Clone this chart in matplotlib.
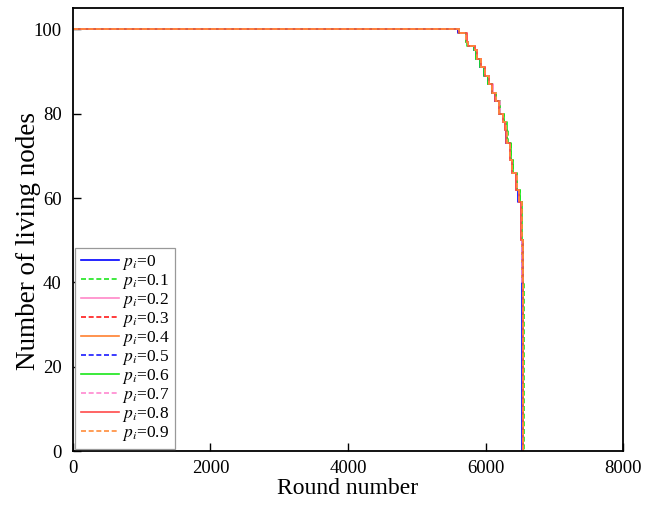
import matplotlib
matplotlib.use("Agg")
import matplotlib.pyplot as plt

plt.rcParams["font.family"] = ["Liberation Serif", "DejaVu Serif"]
plt.rcParams["mathtext.fontset"] = "stix"

# Number of living nodes after each death event (shared step levels)
alive = [100, 99, 97, 96, 95, 93, 91, 89, 87, 85, 83, 80, 78, 76, 73, 69, 66, 62, 59, 50, 40, 0]

# Round at which each level is reached, one list per p_i value
rounds_p00 = [0, 5600, 5715, 5740, 5835, 5865, 5925, 5980, 6040, 6095, 6135, 6195, 6250, 6285, 6300, 6350, 6380, 6445, 6475, 6510, 6525, 6530]
rounds_p01 = [0, 5620, 5710, 5735, 5830, 5860, 5920, 5975, 6040, 6100, 6150, 6210, 6265, 6300, 6320, 6365, 6400, 6460, 6495, 6530, 6545, 6555]
rounds_p02 = [0, 5610, 5725, 5750, 5845, 5880, 5935, 5990, 6050, 6105, 6145, 6205, 6260, 6290, 6305, 6355, 6390, 6450, 6480, 6520, 6535, 6545]
rounds_p03 = [0, 5605, 5720, 5745, 5840, 5870, 5930, 5985, 6045, 6100, 6140, 6200, 6255, 6290, 6310, 6355, 6385, 6450, 6485, 6525, 6540, 6550]
rounds_p04 = [0, 5615, 5720, 5745, 5840, 5875, 5930, 5985, 6050, 6100, 6145, 6200, 6255, 6285, 6305, 6350, 6385, 6445, 6480, 6520, 6535, 6545]
rounds_p05 = [0, 5600, 5715, 5745, 5835, 5870, 5925, 5980, 6045, 6095, 6140, 6195, 6255, 6290, 6300, 6355, 6385, 6450, 6480, 6515, 6530, 6540]
rounds_p06 = [0, 5615, 5715, 5740, 5835, 5865, 5925, 5980, 6040, 6100, 6150, 6215, 6270, 6305, 6315, 6365, 6400, 6460, 6495, 6525, 6540, 6550]
rounds_p07 = [0, 5610, 5720, 5750, 5845, 5875, 5935, 5990, 6050, 6105, 6145, 6205, 6260, 6290, 6305, 6355, 6390, 6450, 6480, 6520, 6535, 6545]
rounds_p08 = [0, 5610, 5725, 5750, 5840, 5875, 5930, 5985, 6045, 6100, 6140, 6200, 6255, 6285, 6300, 6350, 6380, 6445, 6480, 6520, 6540, 6550]
rounds_p09 = [0, 5610, 5720, 5745, 5840, 5870, 5930, 5985, 6045, 6100, 6145, 6200, 6255, 6290, 6305, 6355, 6385, 6450, 6480, 6525, 6540, 6548]

p_values = ["0", "0.1", "0.2", "0.3", "0.4", "0.5", "0.6", "0.7", "0.8", "0.9"]
series_rounds = [rounds_p00, rounds_p01, rounds_p02, rounds_p03, rounds_p04,
                 rounds_p05, rounds_p06, rounds_p07, rounds_p08, rounds_p09]

colors = ["#0000ff", "#1ee61e", "#ff88c8", "#ff1a1a", "#ff8030",
          "#1a1aff", "#19e619", "#ff88d0", "#ff4a4a", "#ff8c3a"]
styles = ["-", "--", "-", "--", "-", "--", "-", "--", "-", "--"]

fig = plt.figure(figsize=(6.56, 5.07), dpi=100)
ax = fig.add_axes([0.111, 0.110, 0.839, 0.874])

for r, p, c, ls in zip(series_rounds, p_values, colors, styles):
    ax.step(r, alive, where="post", color=c, linestyle=ls, linewidth=1.2,
            dashes=(3, 1.6) if ls == "--" else (None, None),
            label=r"$p_i$=" + p)

ax.set_xlim(0, 8000)
ax.set_ylim(0, 105)
ax.set_xticks([0, 2000, 4000, 6000, 8000])
ax.set_yticks([0, 20, 40, 60, 80, 100])
ax.tick_params(direction="in", length=6, width=1.0, labelsize=13.5)
ax.tick_params(axis="y", pad=8)
ax.tick_params(axis="x", pad=6)
for s in ax.spines.values():
    s.set_linewidth(1.3)

ax.set_xlabel("Round number", fontsize=17, labelpad=1)
ax.set_ylabel("Number of living nodes", fontsize=19.5)
ax.yaxis.set_label_coords(-0.058, 0.475)

leg = ax.legend(loc="lower left", fontsize=12.5, handlelength=2.2, handletextpad=0.2,
                labelspacing=0.0, borderpad=0.3, borderaxespad=0.15,
                fancybox=False, framealpha=1, edgecolor="#999999")
leg.get_frame().set_linewidth(0.9)

fig.savefig("out.png", dpi=100)
